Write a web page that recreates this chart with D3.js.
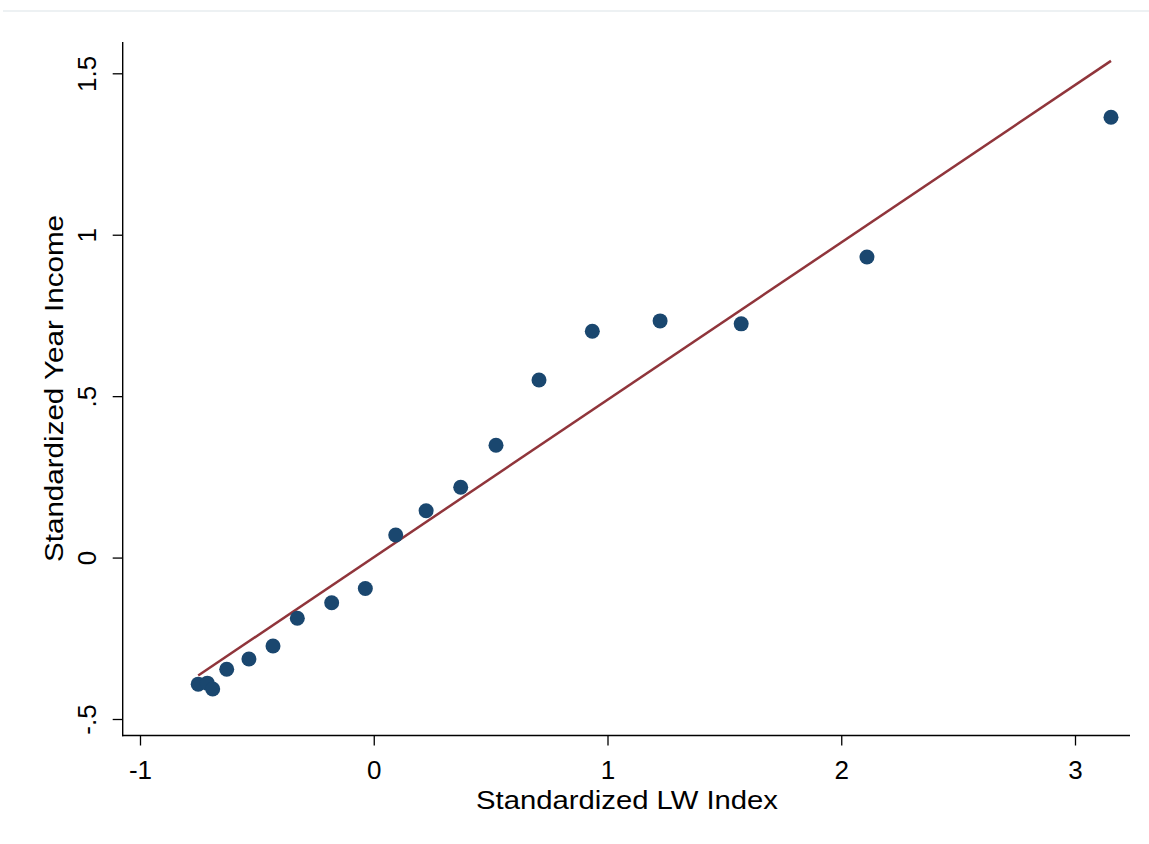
<!DOCTYPE html>
<html>
<head>
<meta charset="utf-8">
<script src="https://cdn.jsdelivr.net/npm/d3@7"></script>
<style>
  html, body { margin: 0; padding: 0; background: #fff; }
  svg { display: block; font-family: "Liberation Sans", Arial, sans-serif; }
</style>
</head>
<body>
<svg id="chart" width="1149" height="844"></svg>
<script>
// Binned means: standardized LW index (x) vs standardized year income (y)
const lwIndex = [-0.751, -0.712, -0.689, -0.629, -0.534, -0.431, -0.327, -0.180, -0.036,
                 0.094, 0.224, 0.372, 0.523, 0.707, 0.935, 1.225, 1.572, 2.110, 3.154];
const yearIncome = [-0.392, -0.389, -0.407, -0.346, -0.314, -0.274, -0.188, -0.140, -0.096,
                    0.070, 0.145, 0.218, 0.348, 0.550, 0.701, 0.733, 0.724, 0.931, 1.364];

// Linear fit
const fitSlope = 0.4875;
const fitIntercept = 0.001;

const xTicks = [-1, 0, 1, 2, 3];
const xTickLabels = ["-1", "0", "1", "2", "3"];
const yTicks = [-0.5, 0, 0.5, 1, 1.5];
const yTickLabels = ["-.5", "0", ".5", "1", "1.5"];

const xTitle = "Standardized LW Index";
const yTitle = "Standardized Year Income";

const svg = d3.select("#chart");

const x = d3.scaleLinear().domain([-1, 3]).range([140, 1075]);
const y = d3.scaleLinear().domain([-0.5, 1.5]).range([719, 73.3]);

const plotLeft = 122.7, plotRight = 1130, plotTop = 42, plotBottom = 735.5;

// thin rule across the top
svg.append("line")
  .attr("x1", 3).attr("x2", 1149).attr("y1", 11).attr("y2", 11)
  .attr("stroke", "#e7edef").attr("stroke-width", 1.5);

// fitted line
const xExt = d3.extent(lwIndex);
svg.append("line")
  .attr("x1", x(xExt[0])).attr("y1", y(fitIntercept + fitSlope * xExt[0]))
  .attr("x2", x(xExt[1])).attr("y2", y(fitIntercept + fitSlope * xExt[1]))
  .attr("stroke", "#90353b").attr("stroke-width", 2.5);

// scatter points
svg.append("g").selectAll("circle")
  .data(d3.zip(lwIndex, yearIncome))
  .join("circle")
  .attr("cx", d => x(d[0]))
  .attr("cy", d => y(d[1]))
  .attr("r", 7.5)
  .attr("fill", "#1a476f");

// x axis
const xAxis = svg.append("g")
  .attr("transform", `translate(0,${plotBottom})`)
  .call(d3.axisBottom(x).tickValues(xTicks)
        .tickFormat((d, i) => xTickLabels[i]).tickSize(10).tickPadding(15));
xAxis.select(".domain").remove();
xAxis.selectAll(".tick line").attr("stroke", "#000").attr("stroke-width", 1.3);
xAxis.selectAll(".tick text").attr("font-size", 26).attr("fill", "#000")
  .attr("font-family", "Liberation Sans, Arial, sans-serif");
svg.append("line")
  .attr("x1", plotLeft - 0.7).attr("x2", plotRight)
  .attr("y1", plotBottom).attr("y2", plotBottom)
  .attr("stroke", "#000").attr("stroke-width", 1.4);

// y axis
const yAxis = svg.append("g")
  .attr("transform", `translate(${plotLeft},0)`)
  .call(d3.axisLeft(y).tickValues(yTicks)
        .tickFormat((d, i) => yTickLabels[i]).tickSize(10));
yAxis.select(".domain").remove();
yAxis.selectAll(".tick line").attr("stroke", "#000").attr("stroke-width", 1.3);
yAxis.selectAll(".tick text")
  .attr("font-size", 26).attr("fill", "#000")
  .attr("font-family", "Liberation Sans, Arial, sans-serif")
  .attr("transform", "rotate(-90)")
  .attr("x", 0).attr("y", -27).attr("dy", 0)
  .attr("text-anchor", "middle");
svg.append("line")
  .attr("x1", plotLeft).attr("x2", plotLeft)
  .attr("y1", plotTop).attr("y2", plotBottom + 0.7)
  .attr("stroke", "#000").attr("stroke-width", 1.4);

// axis titles
svg.append("text")
  .attr("x", 627).attr("y", 809)
  .attr("text-anchor", "middle")
  .attr("font-size", 26.5)
  .attr("textLength", 302).attr("lengthAdjust", "spacingAndGlyphs")
  .text(xTitle);

svg.append("text")
  .attr("transform", "translate(63,388.5) rotate(-90)")
  .attr("text-anchor", "middle")
  .attr("font-size", 26.5)
  .attr("textLength", 347).attr("lengthAdjust", "spacingAndGlyphs")
  .text(yTitle);
</script>
</body>
</html>
